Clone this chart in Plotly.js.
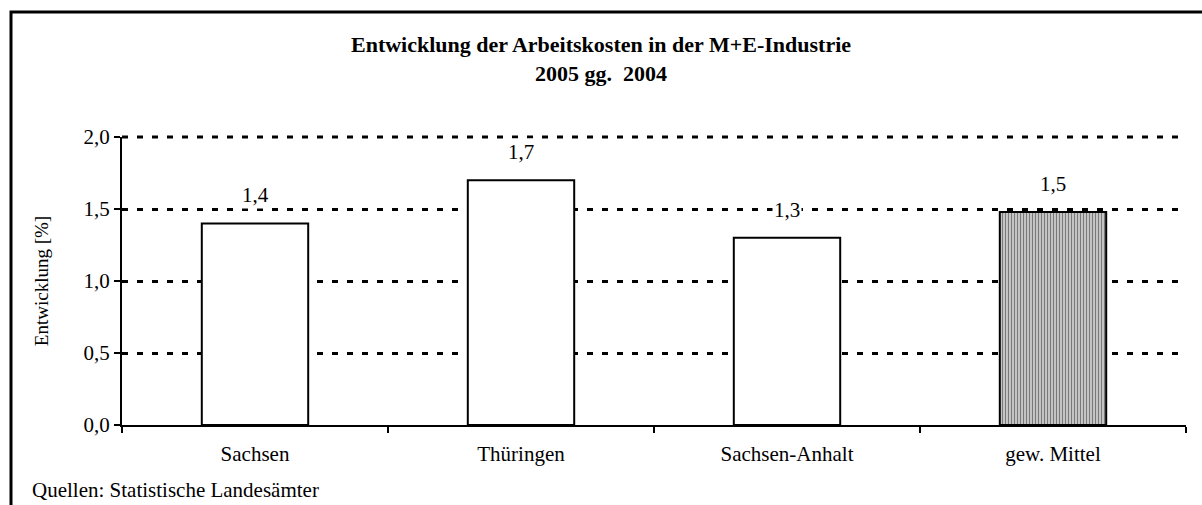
<!DOCTYPE html>
<html>
<head>
<meta charset="utf-8">
<script src="https://cdn.plot.ly/plotly-3.0.1.min.js"></script>
<style>html,body{margin:0;padding:0;background:#fff;}</style>
</head>
<body>
<div id="chart" style="width:1202px;height:505px;"></div>
<script>
const categories = ["Sachsen", "Thüringen", "Sachsen-Anhalt", "gew. Mittel"];
const values = [1.40, 1.70, 1.30, 1.48];
const valueLabels = ["1,4", "1,7", "1,3", "1,5"];
const patternShapes = ["", "", "", "|"];
const yTicks = [0, 0.5, 1.0, 1.5, 2.0];
const titleLines = ["Entwicklung der Arbeitskosten in der M+E-Industrie", "2005 gg.&nbsp; 2004"];
const yAxisTitle = "Entwicklung [%]";
const footerText = "Quellen: Statistische Landesämter";

const FONT = "Liberation Serif, Times New Roman, serif";
const FS = 21;
const DASH = "6px,9px";

const trace = {
  type: "bar",
  x: categories,
  y: values,
  width: 0.4,
  marker: {
    color: "#ffffff",
    line: {color: "#000000", width: 2},
    pattern: {
      shape: patternShapes,
      fgcolor: "#7a7a7a",
      bgcolor: "#dcdcdc",
      size: 3,
      solidity: 0.5
    }
  },
  hoverinfo: "none"
};

const annotations = categories.map((c, i) => ({
  x: c, y: values[i], xref: "x", yref: "y",
  text: valueLabels[i], showarrow: false,
  yanchor: "bottom", yshift: 14,
  bgcolor: "#ffffff", borderpad: 1,
  font: {family: FONT, size: FS, color: "#000"}
}));

annotations.push({
  xref: "paper", yref: "paper",
  x: (30 - 122) / 1064, y: (425 - 490) / 288,
  xanchor: "left", yanchor: "middle",
  text: footerText, showarrow: false,
  font: {family: FONT, size: FS, color: "#000"}
});

const yMax = Math.max(...yTicks);

const layout = {
  width: 1202, height: 505,
  margin: {l: 122, r: 16, t: 137, b: 80, autoexpand: false},
  paper_bgcolor: "#ffffff",
  plot_bgcolor: "#ffffff",
  separators: ",.",
  showlegend: false,
  title: {
    text: "<b>" + titleLines.join("</b><br><b>") + "</b>",
    font: {family: FONT, size: 22, color: "#000"},
    xref: "container", x: 0.5, xanchor: "center",
    yref: "container", y: 1 - 52 / 505, yanchor: "top"
  },
  xaxis: {
    type: "category",
    showline: true, linecolor: "#000", linewidth: 2,
    ticks: "outside", tickson: "boundaries", ticklen: 6, tickwidth: 2, tickcolor: "#000",
    ticklabelstandoff: 9,
    showgrid: false, zeroline: false,
    tickfont: {family: FONT, size: FS, color: "#000"},
    automargin: false
  },
  yaxis: {
    range: [0, yMax],
    tickvals: yTicks,
    tickformat: ".1f",
    showline: true, linecolor: "#000", linewidth: 2,
    ticks: "outside", ticklen: 6, tickwidth: 2, tickcolor: "#000",
    showgrid: true, gridcolor: "#000", gridwidth: 3, griddash: DASH,
    zeroline: false,
    tickfont: {family: FONT, size: FS, color: "#000"},
    title: {text: yAxisTitle, font: {family: FONT, size: 19, color: "#000"}, standoff: 30},
    automargin: false
  },
  shapes: [
    {
      type: "line", xref: "paper", yref: "paper",
      x0: 0, x1: 1, y0: 1, y1: 1,
      line: {color: "#000", width: 3, dash: DASH},
      layer: "below"
    },
    {
      type: "rect", xref: "paper", yref: "paper",
      x0: (11 - 122) / 1064, x1: 1.2,
      y0: -0.5, y1: (425 - 12) / 288,
      line: {color: "#000", width: 3},
      fillcolor: "rgba(0,0,0,0)",
      layer: "above"
    }
  ],
  annotations: annotations
};

Plotly.newPlot("chart", [trace], layout, {staticPlot: true, displayModeBar: false});
</script>
</body>
</html>
